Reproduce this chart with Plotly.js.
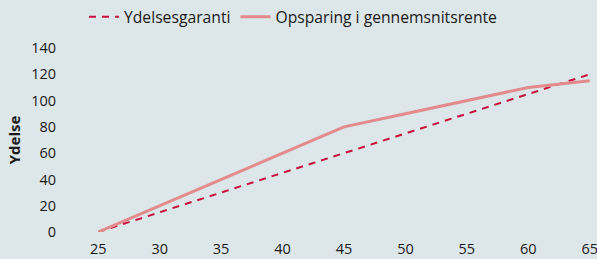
<!DOCTYPE html>
<html>
<head>
<meta charset="utf-8">
<script src="https://cdn.plot.ly/plotly-3.0.1.min.js"></script>
<style>html,body{margin:0;padding:0;background:#dde6e8;}#chart{width:597px;height:259px;}</style>
</head>
<body>
<div id="chart"></div>
<script>
const ages = [25, 30, 35, 40, 45, 50, 55, 60, 65];
const ydelsesgaranti = [0, 15, 30, 45, 60, 75, 90, 105, 120];
const opsparing = [0, 20, 40, 60, 80, 90, 100, 110, 115];
const seriesNames = ['Ydelsesgaranti', 'Opsparing i gennemsnitsrente'];
const yTicks = [0, 20, 40, 60, 80, 100, 120, 140];

const font = {family: 'Open Sans, sans-serif', size: 14.5, color: '#1a1a1a'};
const legendFont = {family: 'Open Sans, sans-serif', size: 15.7, color: '#1a1a1a'};
const titleFont = {family: 'Open Sans, sans-serif', size: 15, color: '#1a1a1a'};
const traces = [
  {x: ages, y: ydelsesgaranti, name: seriesNames[0], type: 'scatter', mode: 'lines',
   line: {color: '#c8103e', width: 2, dash: '7px,6px'}},
  {x: ages, y: opsparing, name: seriesNames[1], type: 'scatter', mode: 'lines',
   line: {color: '#e38a8c', width: 3}}
];
const layout = {
  width: 597, height: 259,
  paper_bgcolor: '#dde6e8', plot_bgcolor: '#dde6e8',
  font: font,
  margin: {l: 98, r: 7, t: 48, b: 27},
  showlegend: true,
  legend: {orientation: 'h', x: 84 / 597, xanchor: 'left', xref: 'container', y: 1, yref: 'container', yanchor: 'top',
           font: legendFont, itemwidth: 30, tracegroupgap: 0},
  xaxis: {range: [24.98, 65.02], tickvals: ages, showgrid: false, zeroline: false, showline: false,
          ticks: 'outside', ticklen: 4, tickcolor: 'rgba(0,0,0,0)', fixedrange: true, ticklabeloverflow: 'allow'},
  yaxis: {range: [0, 140], tickvals: yTicks, showgrid: false, zeroline: false, showline: false,
          ticks: 'outside', ticklen: 38, tickcolor: 'rgba(0,0,0,0)',
          title: {text: '<b>Ydelse</b>', font: titleFont, standoff: 6}, fixedrange: true}
};
Plotly.newPlot('chart', traces, layout, {displayModeBar: false, staticPlot: true});
</script>
</body>
</html>
